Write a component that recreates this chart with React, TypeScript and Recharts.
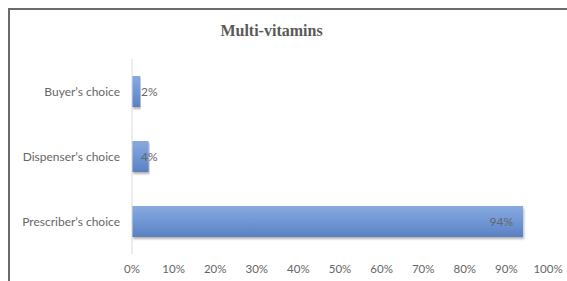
import React from "react";
import { BarChart, Bar, XAxis, YAxis, LabelList } from "recharts";

const categories = ["Buyer’s choice", "Dispenser’s choice", "Prescriber’s choice"];
const shares = [2, 4, 94];
const xTicks = [0, 10, 20, 30, 40, 50, 60, 70, 80, 90, 100];

const data = categories.map((name, i) => ({ name, value: shares[i] }));

const textColor = "#666666";
const labelFont = "Lato, 'Open Sans', sans-serif";

const ValueLabel = (props: any) => {
  const { x, y, width, height, value } = props;
  const text = `${value}%`;
  const cy = y + height / 2;
  if (width > 40) {
    return (
      <text x={x + width - 10} y={cy} dy="0.35em" textAnchor="end" fill={textColor} fontSize={12} fontFamily={labelFont}>
        {text}
      </text>
    );
  }
  return (
    <text x={x + 9} y={cy} dy="0.35em" textAnchor="start" fill={textColor} fontSize={12} fontFamily={labelFont}>
      {text}
    </text>
  );
};

export default function App() {
  return (
    <div style={{ position: "absolute", left: 0, top: 0, width: 567, height: 281, overflow: "hidden", background: "#fff" }}>
      <div
        style={{
          position: "absolute",
          left: 8,
          top: 8,
          width: 600,
          height: 300,
          borderLeft: "2px solid #6b6b6b",
          borderTop: "2px solid #6b6b6b",
        }}
      />
      <div
        style={{
          position: "absolute",
          left: 0,
          width: 543,
          top: 22,
          textAlign: "center",
          fontFamily: "'Liberation Serif', serif",
          fontWeight: "bold",
          fontSize: 16,
          color: "#595959",
        }}
      >
        Multi-vitamins
      </div>
      <div style={{ position: "absolute", left: 0, top: 0 }}>
        <BarChart
          width={567}
          height={281}
          data={data}
          layout="vertical"
          margin={{ top: 59, right: 19, left: 0, bottom: 7 }}
        >
          <defs>
            <linearGradient id="barFill" x1="0" y1="0" x2="0" y2="1">
              <stop offset="0%" stopColor="#88a9df" />
              <stop offset="50%" stopColor="#7097d5" />
              <stop offset="100%" stopColor="#5a80c1" />
            </linearGradient>
            <filter id="shadow" x="-5%" y="-20%" width="110%" height="150%">
              <feDropShadow dx="1" dy="2" stdDeviation="1.2" floodColor="#000" floodOpacity="0.3" />
            </filter>
          </defs>
          <XAxis
            type="number"
            domain={[0, 100]}
            ticks={xTicks}
            tickFormatter={(v) => `${v}%`}
            axisLine={false}
            tickLine={false}
            tickMargin={5}
            height={20}
            interval={0}
            tick={{ fill: textColor, fontSize: 11.5, fontFamily: labelFont }}
          />
          <YAxis
            type="category"
            dataKey="name"
            width={132}
            axisLine={{ stroke: "#d9d9d9" }}
            tickLine={false}
            tickMargin={6}
            tick={{ fill: textColor, fontSize: 12, fontFamily: labelFont }}
          />
          <Bar dataKey="value" fill="url(#barFill)" barSize={31} filter="url(#shadow)" isAnimationActive={false}>
            <LabelList dataKey="value" content={ValueLabel} />
          </Bar>
        </BarChart>
      </div>
    </div>
  );
}
